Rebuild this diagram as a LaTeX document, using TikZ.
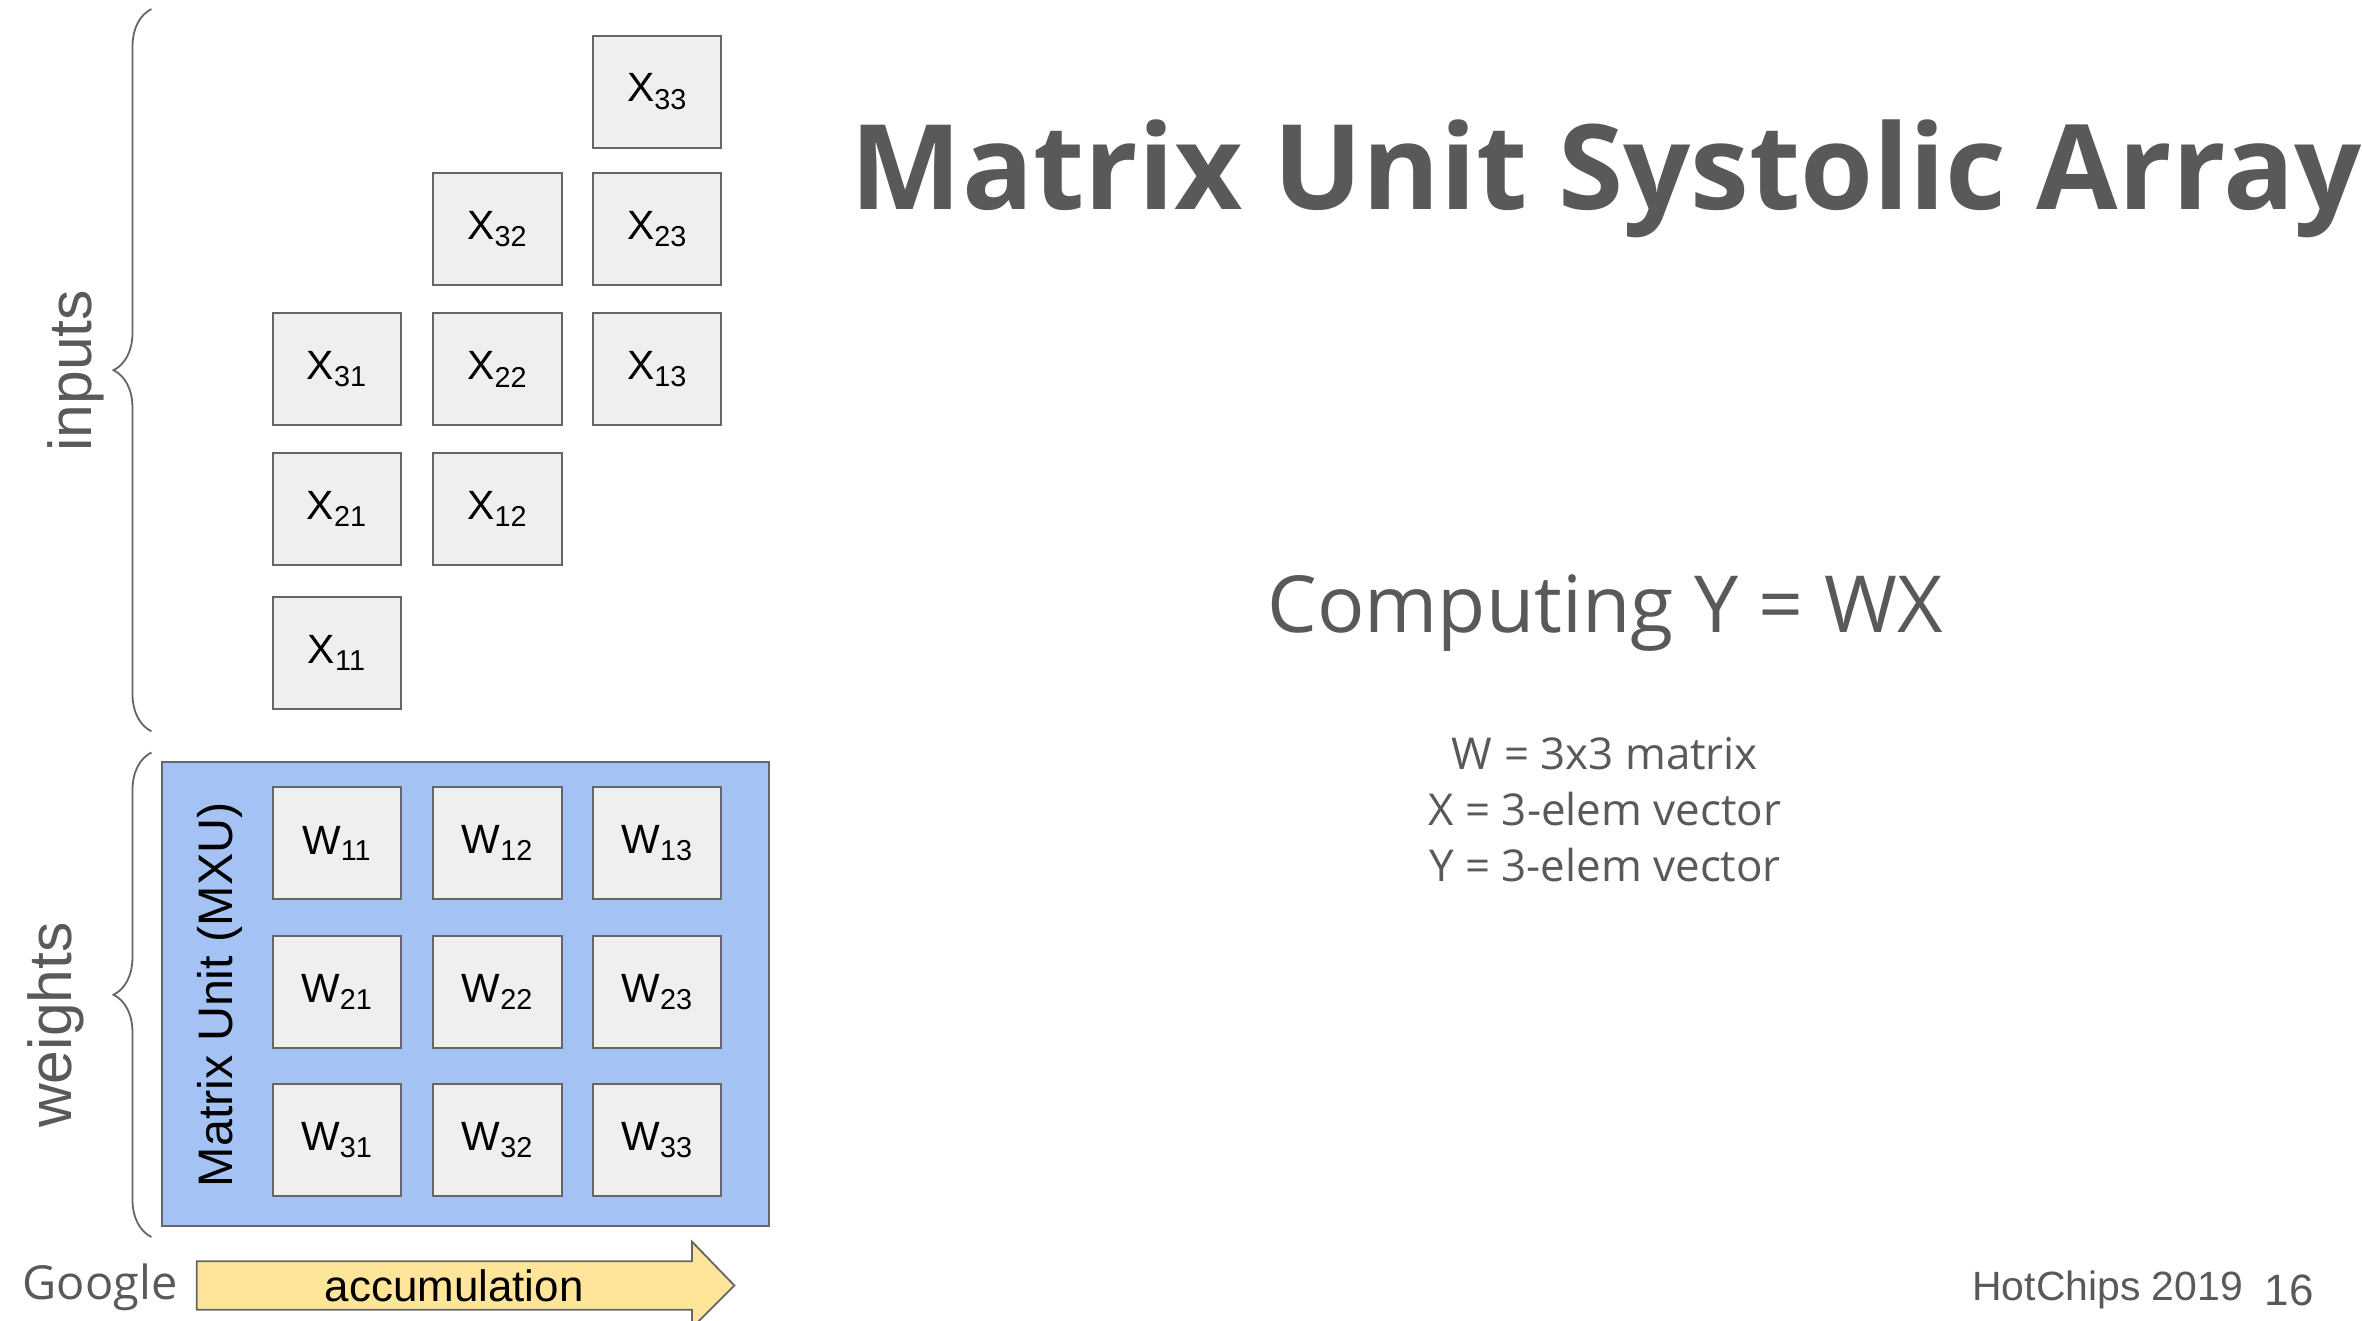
\documentclass[tikz,border=0pt]{standalone}
\usepackage{fontspec}
\setmainfont{Liberation Sans}
\newfontfamily\titlefont{Open Sans}
\usetikzlibrary{decorations.pathreplacing}
\definecolor{mxublue}{HTML}{A4C2F4}
\definecolor{cellgray}{HTML}{EFEFEF}
\definecolor{edgegray}{HTML}{666666}
\definecolor{txtgray}{HTML}{595959}
\definecolor{accyel}{HTML}{FFE599}
\tikzset{
  cell/.style={draw=edgegray, line width=1.3pt, fill=cellgray, minimum width=85pt, minimum height=74pt, inner sep=0pt, font=\fontsize{27}{30}\selectfont},
  bracestyle/.style={draw=edgegray, line width=1.2pt, decorate, decoration={brace, amplitude=25pt}},
  side/.style={text=txtgray, rotate=90, font=\fontsize{40}{44}\selectfont},
}
\newcommand{\lbl}[2]{#1$_{\mbox{\fontsize{19}{20}\selectfont #2}}$}
\begin{document}
\begin{tikzpicture}[x=1pt,y=1pt]
\useasboundingbox (0,0) rectangle (1560,-872);
% braces
\draw[bracestyle] (100,-483) -- (100,-6);
\draw[bracestyle] (100,-817) -- (100,-497);
\node[side] (inp) at (50,-245) {inputs};
\node[side] (wgt) at (37,-677) {weights};
% MXU
\node[draw=edgegray, line width=1.3pt, fill=mxublue, minimum width=401pt, minimum height=307pt, inner sep=0pt] (mxu) at (307.5,-656.5) {};
\node[rotate=90, font=\fontsize{32}{34}\selectfont] (mxul) at (145,-657) {Matrix Unit (MXU)};
% W cells
\foreach \r/\y in {1/-557,2/-655,3/-753}{
  \foreach \c/\x in {1/222.5,2/328.5,3/434}{
    \node[cell] (w\r\c) at (\x,\y) {\lbl{W}{\r\c}};
  }
}
% X cells
\node[cell] (x11) at (222.5,-431) {\lbl{X}{11}};
\node[cell] (x21) at (222.5,-336) {\lbl{X}{21}};
\node[cell] (x31) at (222.5,-244) {\lbl{X}{31}};
\node[cell] (x12) at (328.5,-336) {\lbl{X}{12}};
\node[cell] (x22) at (328.5,-244) {\lbl{X}{22}};
\node[cell] (x32) at (328.5,-151.5) {\lbl{X}{32}};
\node[cell] (x13) at (434,-244) {\lbl{X}{13}};
\node[cell] (x23) at (434,-151.5) {\lbl{X}{23}};
\node[cell] (x33) at (434,-60.5) {\lbl{X}{33}};
% accumulation arrow
\draw[draw=edgegray, line width=1.2pt, fill=accyel] (130,-833) -- (457,-833) -- (457,-820) -- (485,-849) -- (457,-877) -- (457,-865) -- (130,-865) -- cycle;
\node[font=\fontsize{29}{30}\selectfont] (acc) at (300,-849) {accumulation};
% texts
\node[text=txtgray, font=\titlefont\bfseries\fontsize{78}{80}\selectfont] (title) at (1061,-118) {Matrix Unit Systolic Array};
\node[text=txtgray, font=\titlefont\fontsize{52}{56}\selectfont] (comp) at (1060,-405) {Computing Y = WX};
\node[text=txtgray, align=center, font=\titlefont\fontsize{29}{37}\selectfont] (defs) at (1060,-535) {W = 3x3 matrix\\X = 3-elem vector\\Y = 3-elem vector};
\node[text=txtgray, font=\titlefont\fontsize{31}{32}\selectfont] (goog) at (66,-850) {Google};
\node[text=txtgray, font=\fontsize{27}{30}\selectfont] (hot) at (1392,-852) {HotChips 2019};
\node[text=txtgray, font=\fontsize{29}{30}\selectfont] (pg) at (1512,-852) {16};
\end{tikzpicture}
\end{document}
